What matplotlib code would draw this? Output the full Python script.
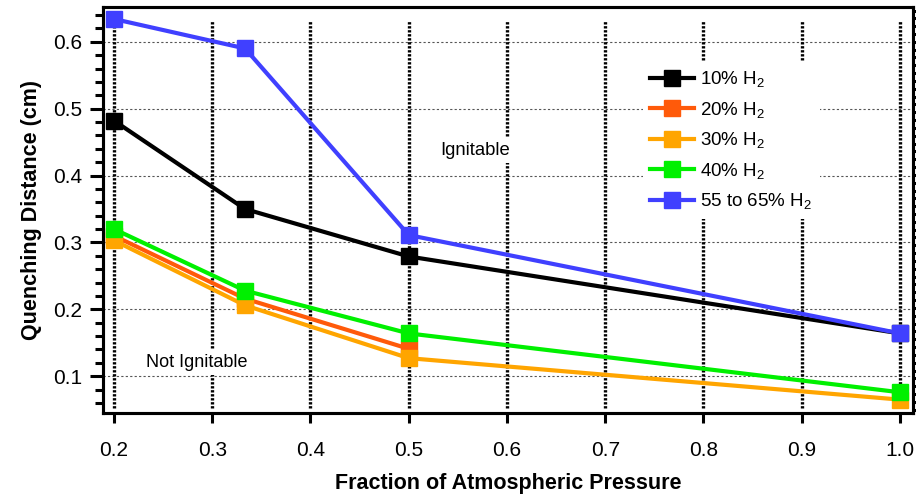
"""Quenching distance vs. fraction of atmospheric pressure."""

import matplotlib

matplotlib.use("Agg")
import matplotlib.pyplot as plt
from matplotlib.ticker import FixedLocator, MultipleLocator
import numpy as np

plt.rcParams.update(
    {
        "font.family": ["Liberation Sans", "DejaVu Sans"],
        "mathtext.fontset": "custom",
        "mathtext.rm": "Liberation Sans",
        "mathtext.it": "Liberation Sans",
        "font.size": 15,
    }
)

# data
pressure = [0.2, 1 / 3, 0.5, 1.0]
pressure_20 = [0.2, 1 / 3, 0.5]
h2_10 = [0.482, 0.350, 0.279, 0.164]
h2_20 = [0.310, 0.216, 0.141]
h2_30 = [0.303, 0.206, 0.127, 0.065]
h2_40 = [0.320, 0.228, 0.164, 0.076]
h2_55_65 = [0.634, 0.590, 0.311, 0.164]

x_ticks = [0.2, 0.3, 0.4, 0.5, 0.6, 0.7, 0.8, 0.9, 1.0]
x_labels = ["0.2", "0.3", "0.4", "0.5", "0.6", "0.7", "0.8", "0.9", "1.0"]
y_ticks = [0.1, 0.2, 0.3, 0.4, 0.5, 0.6]

COLORS = {
    "10": "#000000",
    "20": "#FF5A0A",
    "30": "#FFA500",
    "40": "#00F000",
    "55": "#4040FF",
}

fig = plt.figure(figsize=(9.16, 4.97), dpi=100)
ax = fig.add_axes([0.1124, 0.169, 0.8843, 0.817])

ax.set_xlim(0.1888, 1.0132)
ax.set_ylim(0.045, 0.652)

# thin horizontal grid
for y in y_ticks:
    ax.axhline(y, color="#555555", lw=0.8, ls=(0, (2, 2)), zorder=1)
# heavy dotted vertical lines
for x in x_ticks:
    ax.axvline(x, ymin=0.013, ymax=0.969, color="black", lw=2.4,
               ls=(0, (0.7, 0.5)), zorder=1)

series = [
    (pressure, h2_10, COLORS["10"], "10% H$_{2}$"),
    (pressure_20, h2_20, COLORS["20"], "20% H$_{2}$"),
    (pressure, h2_30, COLORS["30"], "30% H$_{2}$"),
    (pressure, h2_40, COLORS["40"], "40% H$_{2}$"),
    (pressure, h2_55_65, COLORS["55"], "55 to 65% H$_{2}$"),
]
for xs, ys, c, lab in series:
    ax.plot(xs, ys, color=c, lw=3.0, marker="s", ms=11, mec=c, label=lab,
            zorder=3)

bbox = dict(facecolor="white", edgecolor="none", pad=3)
ax.text(0.568, 0.438, "Ignitable", ha="center", va="center", fontsize=13.3,
        bbox=bbox, zorder=2)
ax.text(0.2845, 0.121, "Not Ignitable", ha="center", va="center", fontsize=13,
        bbox=bbox, zorder=2)

leg = ax.legend(loc="upper left", bbox_to_anchor=(0.655, 0.888), frameon=True,
                facecolor="white", edgecolor="none", framealpha=1.0,
                fancybox=False, handlelength=2.3, handletextpad=0.35,
                labelspacing=0.56, borderpad=0.4, fontsize=13.5)
leg.set_zorder(2)

ax.xaxis.set_major_locator(FixedLocator(x_ticks))
ax.set_xticklabels(x_labels)
ax.yaxis.set_major_locator(FixedLocator(y_ticks))
ax.yaxis.set_minor_locator(MultipleLocator(0.02))

ax.tick_params(axis="x", which="major", direction="out", length=7.2, width=2.2,
               pad=13, labelsize=15)
ax.tick_params(axis="y", which="major", direction="out", length=9.4, width=2.2,
               pad=5.5, labelsize=15)
ax.tick_params(axis="y", which="minor", direction="out", length=5.8, width=2.2)

# dense ticks on the right edge
ax_r = ax.twinx()
ax_r.set_ylim(ax.get_ylim())
ax_r.yaxis.set_major_locator(FixedLocator(np.arange(0.05, 0.66, 0.0117)))
ax_r.tick_params(axis="y", direction="out", length=5, width=2.2,
                 labelright=False)
for a in (ax, ax_r):
    for s in a.spines.values():
        s.set_linewidth(2.2)

ax.set_xlabel("Fraction of Atmospheric Pressure", fontsize=15.5,
              fontweight="bold", labelpad=9)
ax.set_ylabel("Quenching Distance (cm)", fontsize=15.5, fontweight="bold",
              labelpad=8)

fig.savefig("out.png", dpi=100)
